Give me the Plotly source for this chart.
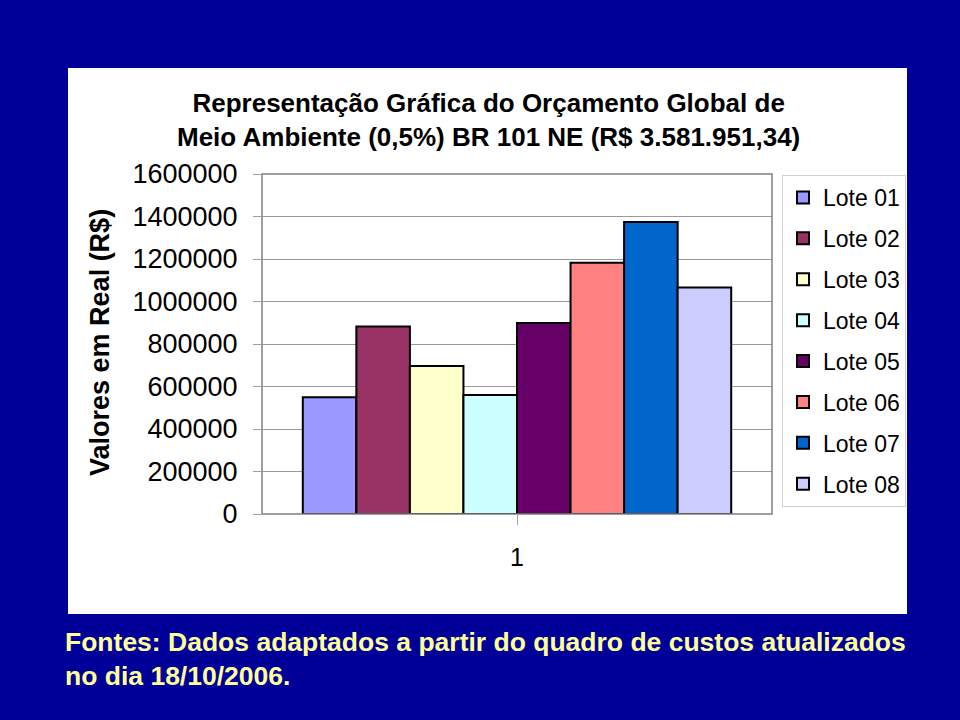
import plotly.graph_objects as go

categories = ["1"]
series_names = ["Lote 01", "Lote 02", "Lote 03", "Lote 04", "Lote 05", "Lote 06", "Lote 07", "Lote 08"]
series_values = [550000, 882000, 697000, 560000, 899000, 1182000, 1374000, 1066000]
series_colors = ["#9999FF", "#993366", "#FFFFCC", "#CCFFFF", "#660066", "#FF8080", "#0066CC", "#CCCCFF"]
y_ticks = [0, 200000, 400000, 600000, 800000, 1000000, 1200000, 1400000, 1600000]

W, H = 960, 720
L, R, T, B = 262, 188, 174, 206
PW, PH = W - L - R, H - T - B

def px(x):
    return (x - L) / PW

def py(y):
    return (H - B - y) / PH

fig = go.Figure()
for name, val, col in zip(series_names, series_values, series_colors):
    fig.add_trace(go.Bar(
        x=categories, y=[val], name=name, legendgroup=name,
        marker=dict(color=col, line=dict(color="black", width=2)),
    ))

font_main = "Liberation Sans, Arial, sans-serif"

fig.update_layout(
    width=W, height=H,
    margin=dict(l=L, r=R, t=T, b=B),
    paper_bgcolor="#000099",
    plot_bgcolor="#CCCCCC",
    barmode="group", bargap=0.16, bargroupgap=0,
    font=dict(family=font_main, color="black"),
    showlegend=True,
    legend=dict(
        x=px(782), y=py(175), xanchor="left", yanchor="top",
        bgcolor="white", bordercolor="#D0D0D0", borderwidth=1,
        font=dict(size=23, family=font_main, color="black"),
        tracegroupgap=8, traceorder="grouped", itemwidth=30,
    ),
    xaxis=dict(
        showgrid=False, ticks="outside", ticklen=10, tickcolor="#A0A0A0",
        tickfont=dict(size=25), showline=False, ticklabelstandoff=11,
    ),
    yaxis=dict(
        range=[0, 1600000], tickvals=y_ticks, ticktext=[str(v) for v in y_ticks],
        showgrid=True, gridcolor="#999999", gridwidth=1,
        ticks="outside", ticklen=8, tickcolor="#A0A0A0",
        tickfont=dict(size=27), zeroline=False, ticklabelstandoff=10,
    ),
    shapes=[
        dict(type="rect", xref="paper", yref="paper", x0=px(68), x1=px(907), y0=py(614), y1=py(68),
             fillcolor="white", line=dict(width=0), layer="below"),
        dict(type="rect", xref="paper", yref="paper", x0=0, x1=1, y0=0, y1=1,
             line=dict(color="#808080", width=1.5), layer="above"),
    ],
    annotations=[
        dict(text="<b>Representação Gráfica do Orçamento Global de<br>Meio Ambiente (0,5%) BR 101 NE (R$ 3.581.951,34)</b>",
             xref="paper", yref="paper", x=px(488), y=py(120), xanchor="center", yanchor="middle",
             showarrow=False, font=dict(size=26, color="black"), align="center"),
        dict(text="<b>Valores em Real (R$)</b>",
             xref="paper", yref="paper", x=px(100), y=py(343), xanchor="center", yanchor="middle",
             textangle=-90, showarrow=False, font=dict(size=27, color="black")),
        dict(text="<b>Fontes: Dados adaptados a partir do quadro de custos atualizados<br>no dia 18/10/2006.</b>",
             xref="paper", yref="paper", x=px(63), y=py(659), xanchor="left", yanchor="middle",
             showarrow=False, font=dict(size=26.5, color="#FFFF99"), align="left"),
    ],
)

fig.write_html("out.html")
